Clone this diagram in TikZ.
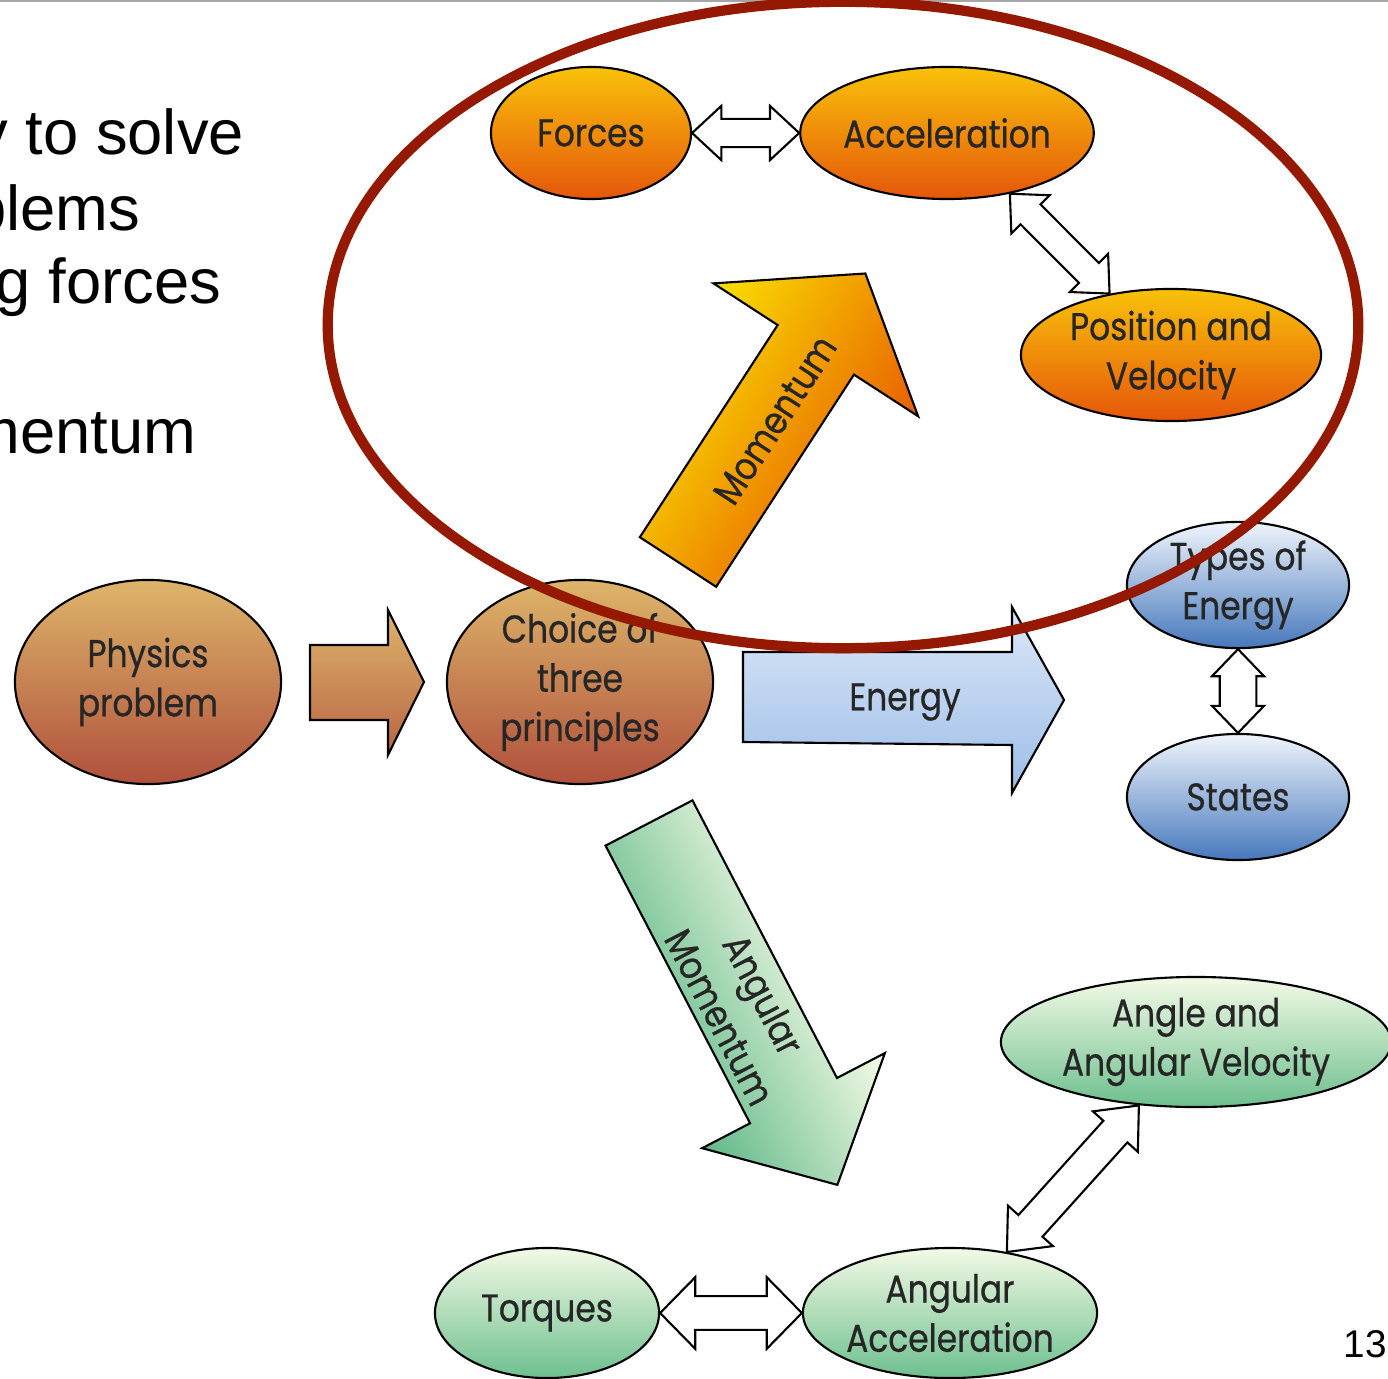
\documentclass[tikz,border=0pt]{standalone}
\usepackage{fontspec}
\newfontfamily\slidefont{Liberation Sans}
\newfontfamily\bubblefont[FakeStretch=0.85, FakeBold=0.6]{Poppins}
\usetikzlibrary{shapes.geometric, calc}

\definecolor{orangetop}{HTML}{F9C20A}
\definecolor{orangebot}{HTML}{E5560A}
\definecolor{browntop}{HTML}{DDB56A}
\definecolor{brownbot}{HTML}{B0503C}
\definecolor{bluetop}{HTML}{F0F5FC}
\definecolor{bluebot}{HTML}{4678BC}
\definecolor{greentop}{HTML}{F3FAE6}
\definecolor{greenbot}{HTML}{6DBF8E}
\definecolor{energytop}{HTML}{DCE8F8}
\definecolor{energybot}{HTML}{9CBDE8}
\definecolor{momlight}{HTML}{FAE000}
\definecolor{momdark}{HTML}{E85E00}
\definecolor{spinlight}{HTML}{F8FCE8}
\definecolor{spindark}{HTML}{5FB888}
\definecolor{ringred}{HTML}{951800}

\tikzset{
  bubble/.style={ellipse, draw, inner sep=0pt, align=center, text=black!85,
    font=\bubblefont\fontsize{11}{14}\selectfont},
  linearbub/.style={bubble, top color=orangetop, bottom color=orangebot},
  startbub/.style={bubble, top color=browntop, bottom color=brownbot},
  energybub/.style={bubble, top color=bluetop, bottom color=bluebot},
  spinbub/.style={bubble, top color=greentop, bottom color=greenbot},
  arrowlabel/.style={align=center, text=black!85, font=\bubblefont\fontsize{11}{14}\selectfont},
  slidetext/.style={anchor=base east, inner sep=0pt, font=\slidefont\fontsize{18}{22}\selectfont},
  ring/.style={draw=ringred, line width=2.9pt},
}

% white double arrow between two points: from, to, shaft half, head half, head length
\newcommand{\twoway}[5]{%
  \path let \p1=($(#2)-(#1)$) in \pgfextra{%
    \pgfmathsetmacro\twang{atan2(\y1,\x1)}%
    \pgfmathsetmacro\twlen{veclen(\x1,\y1)}%
    \global\let\twang\twang
    \global\let\twlen\twlen};
  \draw[fill=white, line join=miter, shift={(#1)}, rotate=\twang]
    (0,0) -- (#5,#4) -- (#5,#3) -- ({\twlen pt-#5},#3) -- ({\twlen pt-#5},#4)
    -- ({\twlen pt},0) -- ({\twlen pt-#5},-#4) -- ({\twlen pt-#5},-#3)
    -- (#5,-#3) -- (#5,-#4) -- cycle;
}

\begin{document}
\begin{tikzpicture}[x=0.01cm, y=-0.01cm, line width=0.6pt]
  \useasboundingbox (0,0) rectangle (1388,1379);
  \begin{scope}
    \clip (0,0) rectangle (1388,1379);

    \draw[gray!70, line width=1.2pt] (0,0) -- (1388,0);

    % slide text, cut by the left edge
    \node[slidetext] (line1) at (245,155) {y to solve};
    \node[slidetext] (line2) at (141,230) {blems};
    \node[slidetext] (line3) at (222,303) {g forces};
    \node[slidetext] (line4) at (197,453) {mentum};

    % start
    \node[startbub, minimum width=2.66cm, minimum height=2.04cm] (problem) at (148,682) {Physics\\problem};
    \node[startbub, minimum width=2.66cm, minimum height=2.04cm] (choice) at (580,682) {Choice of\\three\\principles};
    \draw[top color=browntop, bottom color=brownbot!80!browntop, line join=miter]
      (310,645) -- (388,645) -- (388,610) -- (424,682) -- (388,755) -- (388,720) -- (310,720) -- cycle;

    % linear momentum
    \node[linearbub, minimum width=2cm, minimum height=1.32cm] (forces) at (591,133) {Forces};
    \node[linearbub, minimum width=2.9cm, minimum height=1.32cm] (accel) at (947,133) {Acceleration};
    \node[linearbub, minimum width=3cm, minimum height=1.32cm] (posvel) at (1171,355) {Position and\\Velocity};
    \begin{scope}[transform canvas={shift={(678,562)}, rotate=57}]
      \draw[top color=momlight, bottom color=momdark, line join=miter]
        (0,-45.5) -- (253,-45.5) -- (253,-122) -- (344,0) -- (253,122) -- (253,45.5) -- (0,45.5) -- cycle;
      \node[arrowlabel] (momlabel) at (172,4) {Momentum};
    \end{scope}

    % energy
    \node[energybub, minimum width=2.22cm, minimum height=1.26cm] (kinds) at (1238,585) {Types of\\Energy};
    \node[energybub, minimum width=2.22cm, minimum height=1.26cm] (states) at (1238,797) {States};
    \draw[top color=energytop, bottom color=energybot, line join=miter]
      (743,652) -- (1012,652) -- (1012,607) -- (1064,700) -- (1012,793) -- (1012,745) -- (743,742) -- cycle;
    \node[arrowlabel] (enlabel) at (905,702) {Energy};

    % angular momentum
    \node[spinbub, minimum width=3.9cm, minimum height=1.3cm] (anglevel) at (1196,1042) {Angle and\\Angular Velocity};
    \node[spinbub, minimum width=2.24cm, minimum height=1.3cm] (torques) at (547,1313) {Torques};
    \node[spinbub, minimum width=2.94cm, minimum height=1.3cm] (angacc) at (950,1313) {Angular\\Acceleration};
    \begin{scope}[transform canvas={shift={(649,823)}, rotate=-62.5}]
      \draw[top color=spinlight, bottom color=spindark, line join=miter]
        (0,-49) -- (313,-49) -- (313,-103) -- (408,0) -- (313,103) -- (313,49) -- (0,49) -- cycle;
      \node[arrowlabel] (amlabel) at (205,2) {Angular\\Momentum};
    \end{scope}

    \twoway{forces.east}{accel.west}{4pt}{7.7pt}{8.3pt}
    \twoway{accel.-44}{posvel.135}{4pt}{7.7pt}{8.3pt}
    \twoway{kinds.south}{states.north}{5.2pt}{7.4pt}{7.7pt}
    \twoway{torques.east}{angacc.west}{4.8pt}{10.2pt}{10pt}
    \twoway{angacc.47}{anglevel.-132}{4.6pt}{8.6pt}{10pt}

    \node[anchor=base east, inner sep=0pt, font=\slidefont\fontsize{11}{13}\selectfont] (page) at (1388,1357) {13};

    \node[ring, ellipse, minimum width=10.3cm, minimum height=6.46cm] (focus) at (843,325) {};
  \end{scope}
\end{tikzpicture}
\end{document}
